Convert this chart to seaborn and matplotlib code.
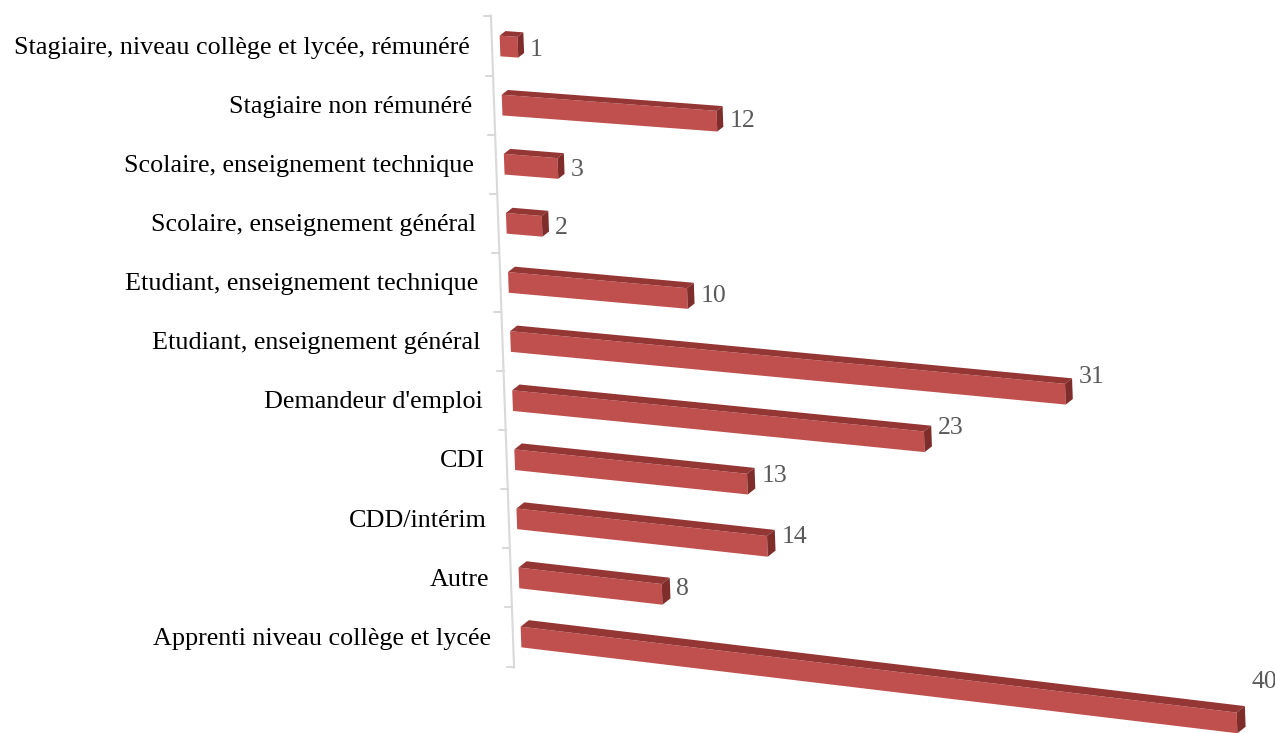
import numpy as np
import pandas as pd
import seaborn as sns
import matplotlib
matplotlib.use("Agg")
import matplotlib.pyplot as plt
from matplotlib.transforms import Affine2D
from matplotlib.patches import Polygon

# ==========================================
# Données
# ==========================================
categories = [
    "Stagiaire, niveau collège et lycée, rémunéré",
    "Stagiaire non rémunéré",
    "Scolaire, enseignement technique",
    "Scolaire, enseignement général",
    "Etudiant, enseignement technique",
    "Etudiant, enseignement général",
    "Demandeur d'emploi",
    "CDI",
    "CDD/intérim",
    "Autre",
    "Apprenti niveau collège et lycée",
]
valeurs = [1, 12, 3, 2, 10, 31, 23, 13, 14, 8, 40]

df = pd.DataFrame({"Statut": categories, "Effectif": valeurs})

# couleurs façon Excel 3D
ROUGE = "#C0504D"
DESSUS = "#943634"
BOUT = "#7E2D2B"

sns.set_theme(style="white")
plt.rcParams["font.family"] = ["Liberation Serif", "DejaVu Serif"]

# échelle en pixels (figure 1275x733)
PX_X = 17.9   # pixels par unité
PX_Y = 59.1   # pixels par catégorie
X0, Y0 = 500, 46
C = 2.1 / PX_X  # décalage horizontal par ligne (perspective)

fig = plt.figure(figsize=(12.75, 7.33), dpi=100)
ax = fig.add_axes([0, 0, 1, 1])

sns.barplot(data=df, x="Effectif", y="Statut", orient="h", color=ROUGE,
            saturation=1, width=0.35, linewidth=0, ax=ax)

ax.set_xlim(-X0 / PX_X, (1275 - X0) / PX_X)
ax.set_ylim((733 - Y0) / PX_Y, -Y0 / PX_Y)
ax.axis("off")


def perspective(i, pente_px):
    # cisaillement : la barre descend vers la droite, plus fort en bas
    k = pente_px * PX_X / PX_Y
    m = np.array([[1, C, 0], [k, 1, 0], [0, 0, 1]])
    return Affine2D(m) + ax.transData


barres = sorted(ax.patches, key=lambda p: p.get_y())
for i, p in enumerate(barres):
    pente = 0.07 + 0.005 * i
    tr = perspective(i, pente)
    p.set_transform(tr)
    x0, y0, w, h = p.get_x(), p.get_y(), p.get_width(), p.get_height()
    ddx = (6 + 0.25 * i) / PX_X
    ddy = (5 + 0.25 * i) / PX_Y
    dessus = [(x0, y0), (x0 + w, y0), (x0 + w + ddx, y0 - ddy), (x0 + ddx, y0 - ddy)]
    bout = [(x0 + w, y0), (x0 + w + ddx, y0 - ddy), (x0 + w + ddx, y0 + h - ddy), (x0 + w, y0 + h)]
    ax.add_patch(Polygon(dessus, closed=True, facecolor=DESSUS, edgecolor="none", transform=tr))
    ax.add_patch(Polygon(bout, closed=True, facecolor=BOUT, edgecolor="none", transform=tr))

    # étiquette de valeur
    ax.text(x0 + w + ddx + 6 / PX_X, i + 0.04, str(valeurs[i]), transform=perspective(i, 0.058),
            ha="left", va="center", fontsize=18.5, color="#595959")
    # nom de la catégorie
    ax.text(-30 / PX_X, i + 0.03, categories[i], transform=perspective(i, 0),
            ha="right", va="center", fontsize=18.8, color="black")

# axe vertical gris (légèrement incliné) avec graduations
axe_x = -8 / PX_X
tr0 = perspective(0, 0)
ax.plot([axe_x, axe_x], [-0.52, len(categories) - 0.48], color="#D9D9D9", lw=1.5, transform=tr0)
for b in np.arange(-0.5, len(categories) + 0.5):
    ax.plot([axe_x - 7 / PX_X, axe_x], [b, b], color="#D9D9D9", lw=1.5, transform=tr0)

plt.savefig("out.png", dpi=100)
